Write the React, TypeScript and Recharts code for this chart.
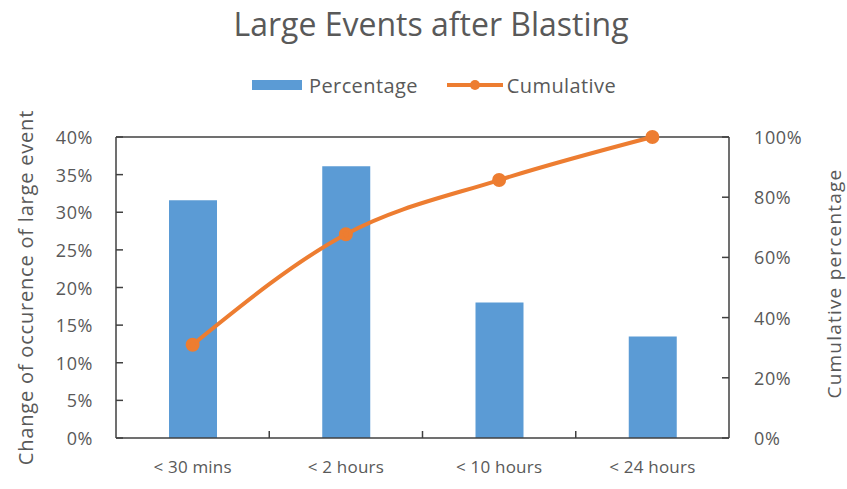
import React from 'react';
import { ComposedChart, Bar, Line, XAxis, YAxis, ReferenceLine } from 'recharts';

const categories = ['< 30 mins', '< 2 hours', '< 10 hours', '< 24 hours'];
const percentage = [0.316, 0.361, 0.18, 0.135];
const cumulative = [0.31, 0.677, 0.857, 1.0];
const leftTicks = [0, 0.05, 0.1, 0.15, 0.2, 0.25, 0.3, 0.35, 0.4];
const rightTicks = [0, 0.2, 0.4, 0.6, 0.8, 1.0];

const data = categories.map((name, i) => ({ name, percentage: percentage[i], cumulative: cumulative[i] }));

const FONT = '"Open Sans", sans-serif';
const TEXT = '#595959';
const AXIS = '#404040';
const BLUE = '#5B9BD5';
const ORANGE = '#ED7D31';

const W = 847;
const H = 489;
const LEFT_W = 116;
const RIGHT_W = 118;
const TOP = 137;
const X_H = 51;
const BAND = (W - LEFT_W - RIGHT_W) / categories.length;

const pct = (v: number) => `${Math.round(v * 100)}%`;

const LeftTick = (props: any) => {
  const { x, y, payload } = props;
  return (
    <g>
      <line x1={x + 23} x2={x + 30} y1={y} y2={y} stroke={AXIS} strokeWidth={1.5} />
      <text x={x} y={y} textAnchor="end" dominantBaseline="central" fill={TEXT} fontFamily={FONT} fontSize={18} letterSpacing={0.6}>
        {pct(payload.value)}
      </text>
    </g>
  );
};

const RightTick = (props: any) => {
  const { x, y, payload } = props;
  return (
    <g>
      <line x1={x - 25} x2={x - 32} y1={y} y2={y} stroke={AXIS} strokeWidth={1.5} />
      <text x={x} y={y} textAnchor="start" dominantBaseline="central" fill={TEXT} fontFamily={FONT} fontSize={18} letterSpacing={0.6}>
        {pct(payload.value)}
      </text>
    </g>
  );
};

const BottomTick = (props: any) => {
  const { x, y, payload, index } = props;
  const axisY = y - 18;
  return (
    <g>
      {index < categories.length - 1 && (
        <line x1={x + BAND / 2} x2={x + BAND / 2} y1={axisY} y2={axisY - 7} stroke={AXIS} strokeWidth={1.5} />
      )}
      <text x={x} y={y + 5} dy="0.71em" textAnchor="middle" fill={TEXT} fontFamily={FONT} fontSize={17} letterSpacing={0.2}>
        {payload.value}
      </text>
    </g>
  );
};

const LegendBox = () => (
  <div style={{ position: 'absolute', left: 252, top: 73, display: 'flex', alignItems: 'center', fontFamily: FONT, fontSize: 20, letterSpacing: 0.4, color: TEXT, whiteSpace: 'nowrap', height: 24 }}>
    <div style={{ width: 50, height: 10, background: BLUE, marginRight: 7 }} />
    <span style={{ marginRight: 29 }}>Percentage</span>
    <svg width={56} height={14} style={{ marginRight: 4 }}>
      <line x1={0} y1={7} x2={56} y2={7} stroke={ORANGE} strokeWidth={4} />
      <circle cx={28} cy={7} r={5} fill={ORANGE} />
    </svg>
    <span>Cumulative</span>
  </div>
);

export default function App() {
  return (
    <div style={{ position: 'absolute', left: 0, top: 0, width: W, height: H, background: '#fff' }}>
      <div style={{ position: 'absolute', left: 0, top: 0, width: 862, textAlign: 'center', fontFamily: FONT, fontSize: 32, color: TEXT, lineHeight: '48px' }}>
        Large Events after Blasting
      </div>
      <LegendBox />
      <div style={{ position: 'absolute', left: 0, top: 0 }}>
        <ComposedChart width={W} height={H} data={data} margin={{ top: TOP, right: 0, left: 0, bottom: 0 }}>
          <XAxis
            dataKey="name"
            height={X_H}
            tickLine={false}
            tickSize={0}
            tickMargin={18}
            axisLine={{ stroke: AXIS, strokeWidth: 1.5 }}
            tick={<BottomTick />}
          />
          <YAxis
            yAxisId="left"
            width={LEFT_W}
            domain={[0, 0.4]}
            ticks={leftTicks}
            tickSize={0}
            tickMargin={23}
            tickLine={false}
            axisLine={{ stroke: AXIS, strokeWidth: 1.5 }}
            tick={<LeftTick />}
            label={(props: any) => {
              const vb = props.viewBox || { x: 0, y: TOP, height: 301 };
              const x = 25;
              const y = vb.y + vb.height / 2;
              return (
                <text x={x} y={y} transform={`rotate(-90 ${x} ${y})`} textAnchor="middle" dominantBaseline="central" fill={TEXT} fontFamily={FONT} fontSize={20} letterSpacing={0.8}>
                  Change of  occurence of large event
                </text>
              );
            }}
          />
          <YAxis
            yAxisId="right"
            orientation="right"
            width={RIGHT_W}
            domain={[0, 1]}
            ticks={rightTicks}
            tickSize={0}
            tickMargin={25}
            tickLine={false}
            axisLine={{ stroke: AXIS, strokeWidth: 1.5 }}
            tick={<RightTick />}
            label={(props: any) => {
              const vb = props.viewBox || { x: 729, y: TOP, height: 301 };
              const x = 834;
              const y = vb.y + vb.height / 2 - 4;
              return (
                <text x={x} y={y} transform={`rotate(-90 ${x} ${y})`} textAnchor="middle" dominantBaseline="central" fill={TEXT} fontFamily={FONT} fontSize={19} letterSpacing={1.2}>
                  Cumulative percentage
                </text>
              );
            }}
          />
          <ReferenceLine yAxisId="left" y={0.4} stroke={AXIS} strokeWidth={1.5} />
          <Bar yAxisId="left" dataKey="percentage" name="Percentage" fill={BLUE} barSize={48} isAnimationActive={false} />
          <Line yAxisId="right" type="monotone" dataKey="cumulative" name="Cumulative" stroke={ORANGE} strokeWidth={4} dot={{ r: 5, fill: ORANGE, stroke: ORANGE }} activeDot={false} isAnimationActive={false} />
        </ComposedChart>
      </div>
    </div>
  );
}
